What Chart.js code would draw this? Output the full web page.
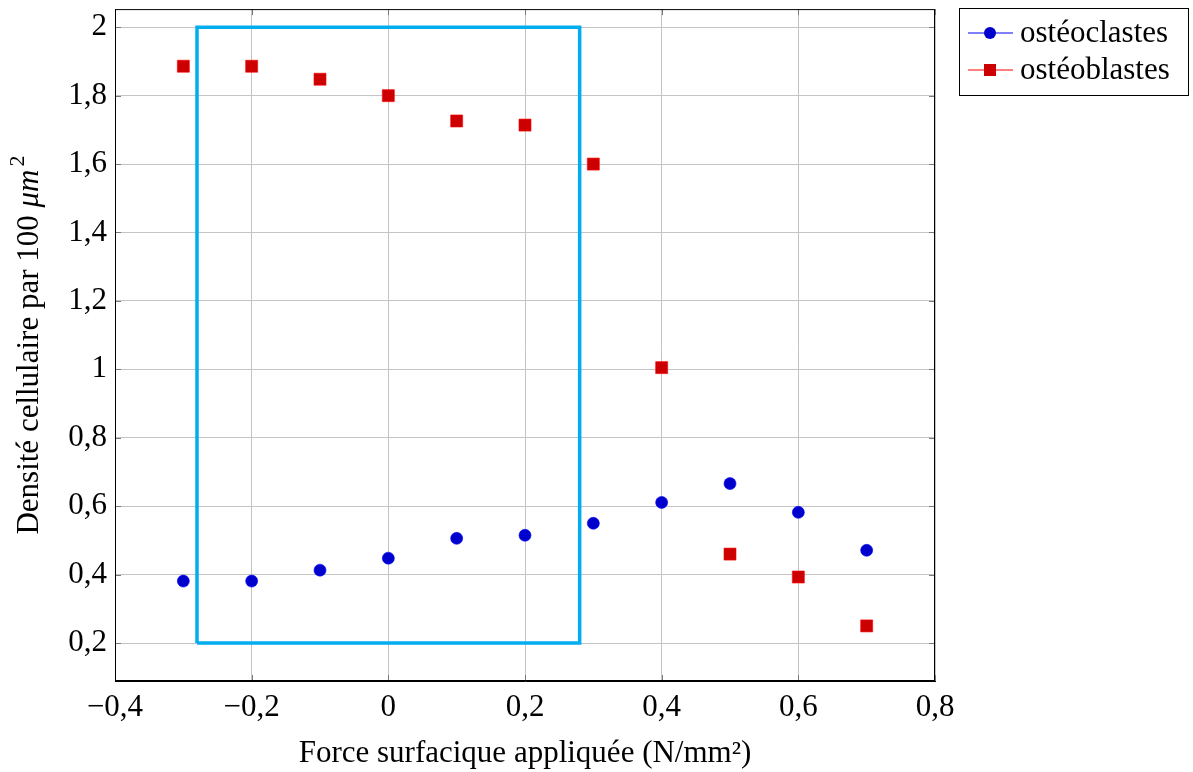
<!DOCTYPE html>
<html>
<head>
<meta charset="utf-8">
<script src="https://cdn.jsdelivr.net/npm/chart.js@4.4.1/dist/chart.umd.min.js"></script>
<style>
  html, body { margin: 0; padding: 0; background: #fff; }
  #wrap { width: 1193px; height: 772px; position: relative; }
</style>
</head>
<body>
<div id="wrap"><canvas id="chart"></canvas></div>
<script>
// force appliquée (N/mm²)
const forces = [-0.3, -0.2, -0.1, 0, 0.1, 0.2, 0.3, 0.4, 0.5, 0.6, 0.7];
const osteoclastes = [0.381, 0.381, 0.413, 0.448, 0.506, 0.515, 0.55, 0.611, 0.666, 0.582, 0.471];
const osteoblastes = [1.886, 1.886, 1.848, 1.80, 1.726, 1.714, 1.60, 1.005, 0.46, 0.393, 0.25];

// cadre cyan
const cadreX = [-0.28, 0.28];
const cadreY = [0.2, 2];

const xTicks = [-0.4, -0.2, 0, 0.2, 0.4, 0.6, 0.8];
const yTicks = [0.2, 0.4, 0.6, 0.8, 1, 1.2, 1.4, 1.6, 1.8, 2];

const FONT = "'Liberation Serif', 'DejaVu Serif', serif";
const FS = 31;

function fmt(v) {
  let s = Number.isInteger(v) ? String(v) : String(Math.round(v * 10) / 10);
  return s.replace('.', ',').replace('-', '\u2212');
}

const points = (ys) => forces.map((x, i) => ({ x: x, y: ys[i] }));

const cadre = [
  { x: cadreX[0], y: cadreY[0] },
  { x: cadreX[0], y: cadreY[1] },
  { x: cadreX[1], y: cadreY[1] },
  { x: cadreX[1], y: cadreY[0] },
  { x: cadreX[0], y: cadreY[0] }
];

// petits traits de graduation vers l'intérieur (style pgfplots)
const graduations = {
  id: 'graduations',
  afterDatasetsDraw(chart) {
    const ctx = chart.ctx;
    const a = chart.chartArea;
    const sx = chart.scales.x, sy = chart.scales.y;
    ctx.save();
    ctx.strokeStyle = '#7a7a7a';
    ctx.lineWidth = 1;
    ctx.beginPath();
    xTicks.forEach(v => {
      const px = Math.round(sx.getPixelForValue(v)) + 0.5;
      ctx.moveTo(px, a.bottom); ctx.lineTo(px, a.bottom - 6);
      ctx.moveTo(px, a.top); ctx.lineTo(px, a.top + 6);
    });
    yTicks.forEach(v => {
      const py = Math.round(sy.getPixelForValue(v)) + 0.5;
      ctx.moveTo(a.left, py); ctx.lineTo(a.left + 6, py);
      ctx.moveTo(a.right, py); ctx.lineTo(a.right - 6, py);
    });
    ctx.stroke();
    ctx.strokeStyle = '#000';
    ctx.strokeRect(a.left + 0.5, a.top + 0.5, a.right - a.left - 1, a.bottom - a.top - 1);
    ctx.restore();
  }
};

// légende + titre de l'axe y dessinés à la main
const extras = {
  id: 'extras',
  afterDraw(chart) {
    const ctx = chart.ctx;
    const area = chart.chartArea;
    ctx.save();

    // titre axe y : Densité cellulaire par 100 μm²
    ctx.translate(30, (area.top + area.bottom) / 2);
    ctx.rotate(-Math.PI / 2);
    ctx.fillStyle = '#000';
    ctx.textBaseline = 'middle';
    const partA = 'Densité cellulaire par 100 ';
    const fNorm = FS + 'px ' + FONT;
    const fIt = 'italic ' + FS + 'px ' + FONT;
    const fSup = Math.round(FS * 0.7) + 'px ' + FONT;
    ctx.font = fNorm; const wA = ctx.measureText(partA).width;
    ctx.font = fIt; const wB = ctx.measureText('μm').width;
    ctx.font = fSup; const wC = ctx.measureText('2').width;
    let x0 = -(wA + wB + wC + 3) / 2;
    ctx.font = fNorm; ctx.fillText(partA, x0, 0);
    ctx.font = fIt; ctx.fillText('μm', x0 + wA, 0);
    ctx.font = fSup; ctx.fillText('2', x0 + wA + wB + 3, -12);
    ctx.restore();

    // légende
    ctx.save();
    const lx = 959, ly = 8, lw = 229, lh = 87;
    ctx.fillStyle = '#fff';
    ctx.fillRect(lx, ly, lw, lh);
    ctx.strokeStyle = '#000';
    ctx.lineWidth = 1;
    ctx.strokeRect(lx + 0.5, ly + 0.5, lw, lh);
    const series = chart.data.datasets.filter(d => d.inLegend);
    series.forEach((d, i) => {
      const cy = ly + 25 + i * 37;
      ctx.strokeStyle = d.borderColor;
      ctx.lineWidth = 1;
      ctx.beginPath();
      ctx.moveTo(lx + 9, cy);
      ctx.lineTo(lx + 54, cy);
      ctx.stroke();
      ctx.fillStyle = d.backgroundColor;
      const mx = lx + 31;
      if (d.pointStyle === 'rect') {
        ctx.fillRect(mx - 6, cy - 6, 12, 12);
      } else {
        ctx.beginPath();
        ctx.arc(mx, cy, 6, 0, Math.PI * 2);
        ctx.fill();
      }
      ctx.fillStyle = '#000';
      ctx.font = fNorm;
      ctx.textBaseline = 'middle';
      ctx.fillText(d.label, lx + 61, cy + 1);
    });
    ctx.restore();
  }
};

new Chart(document.getElementById('chart'), {
  type: 'scatter',
  data: {
    datasets: [
      {
        label: 'cadre',
        data: cadre,
        showLine: true,
        borderColor: '#00aeef',
        borderWidth: 3.5,
        pointRadius: 0,
        fill: false,
        order: 3
      },
      {
        label: 'ostéoclastes',
        inLegend: true,
        data: points(osteoclastes),
        pointStyle: 'circle',
        pointRadius: 6,
        backgroundColor: '#0000cc',
        borderColor: '#0000ff',
        borderWidth: 0.6,
        order: 1
      },
      {
        label: 'ostéoblastes',
        inLegend: true,
        data: points(osteoblastes),
        pointStyle: 'rect',
        pointRadius: 8.5,
        backgroundColor: '#cc0000',
        borderColor: '#ff0000',
        borderWidth: 0.6,
        order: 2
      }
    ]
  },
  options: {
    responsive: true,
    maintainAspectRatio: false,
    animation: false,
    layout: { padding: { top: 8, right: 258, left: 0, bottom: 0 } },
    plugins: {
      legend: { display: false },
      tooltip: { enabled: false }
    },
    scales: {
      x: {
        type: 'linear',
        min: -0.4,
        max: 0.8,
        afterBuildTicks: (s) => { s.ticks = xTicks.map(v => ({ value: v })); },
        afterFit: (s) => { s.height = 91; s.paddingLeft = 0; s.paddingRight = 0; },
        border: { color: '#000', width: 1 },
        grid: { color: '#c4c4c4', lineWidth: 1, drawTicks: false },
        ticks: {
          color: '#000',
          padding: 8,
          maxRotation: 0,
          font: { family: FONT, size: FS },
          callback: (v) => fmt(v)
        },
        title: {
          display: true,
          text: 'Force surfacique appliquée (N/mm²)',
          color: '#000',
          padding: { top: 8, bottom: 0 },
          font: { family: FONT, size: FS }
        }
      },
      y: {
        type: 'linear',
        min: 0.089,
        max: 2.053,
        afterBuildTicks: (s) => { s.ticks = yTicks.map(v => ({ value: v })); },
        afterFit: (s) => { s.width = 115; s.paddingTop = 0; s.paddingBottom = 0; },
        border: { color: '#000', width: 1 },
        grid: { color: '#c4c4c4', lineWidth: 1, drawTicks: false },
        ticks: {
          color: '#000',
          padding: 8,
          font: { family: FONT, size: FS },
          callback: (v) => fmt(v)
        }
      }
    }
  },
  plugins: [graduations, extras]
});
</script>
</body>
</html>
